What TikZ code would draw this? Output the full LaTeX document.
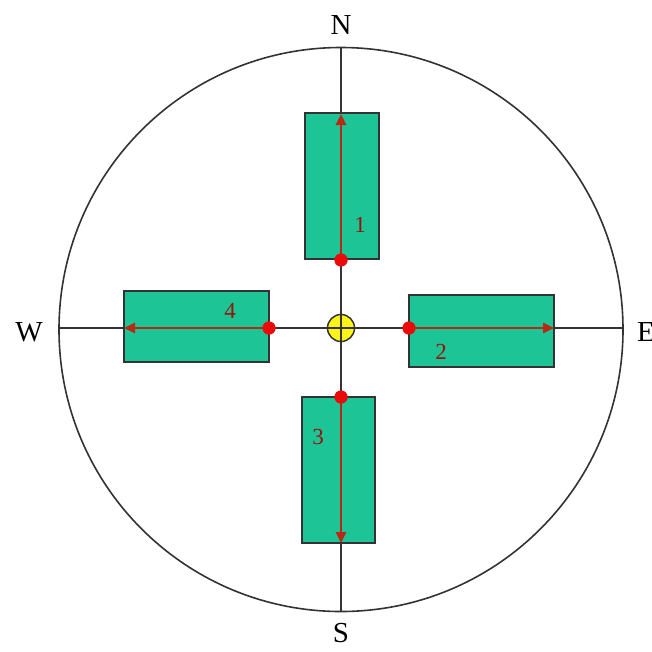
\documentclass[tikz,border=0pt]{standalone}
\usepackage{fontspec}
\setmainfont{Liberation Serif}
\usetikzlibrary{arrows.meta}
\definecolor{boxgreen}{RGB}{28,196,150}
\definecolor{arrred}{RGB}{185,40,20}
\definecolor{dotred}{RGB}{235,10,10}
\definecolor{labred}{RGB}{150,20,10}
\tikzset{
  panel/.style={draw=black!80, line width=1.6pt, fill=boxgreen, inner sep=0pt},
  axis/.style={draw=black!80, line width=1.6pt},
  vec/.style={draw=arrred, line width=2.6pt, -{Triangle[length=11pt,width=10pt]}},
  rdot/.style={circle, fill=dotred, inner sep=0pt, minimum size=13pt},
  dir/.style={font=\fontsize{29}{29}\selectfont, inner sep=1pt},
  num/.style={font=\fontsize{23}{23}\selectfont, text=labred}
}
\begin{document}
\begin{tikzpicture}[x=1pt,y=-1pt]
\useasboundingbox (0,0) rectangle (652,651);
\fill[white] (0,0) rectangle (652,651);
% outer circle
\node[draw=black!80, line width=1.6pt, circle, minimum size=564pt, inner sep=0pt] (ring) at (341,329.5) {};
% axes
\coordinate (top) at (341,47.5);
\coordinate (bot) at (341,611.5);
\coordinate (lft) at (59,328);
\coordinate (rgt) at (623,328);
\draw[axis] (top) -- (bot);
\draw[axis] (lft) -- (rgt);
% panels
\node[panel, minimum width=74pt, minimum height=146pt] (p1) at (342,186) {};
\node[panel, minimum width=145pt, minimum height=72pt] (p2) at (481.5,331) {};
\node[panel, minimum width=73pt, minimum height=146pt] (p3) at (338.5,470) {};
\node[panel, minimum width=145pt, minimum height=71pt] (p4) at (196.5,326.5) {};
% red dots
\node[rdot] (d1) at (341,260) {};
\node[rdot] (d2) at (409,328) {};
\node[rdot] (d3) at (341,397) {};
\node[rdot] (d4) at (269,328) {};
% arrow ends
\coordinate (e1) at (341,114);
\coordinate (e2) at (554,328);
\coordinate (e3) at (341,543);
\coordinate (e4) at (124,328);
\draw[vec] (d1.center) -- (e1);
\draw[vec] (d2.center) -- (e2);
\draw[vec] (d3.center) -- (e3);
\draw[vec] (d4.center) -- (e4);
\node[rdot] at (d1) {};
\node[rdot] at (d2) {};
\node[rdot] at (d3) {};
\node[rdot] at (d4) {};
% centre marker
\node[circle, draw=black!80, line width=1.5pt, fill=yellow!90!white, minimum size=27pt, inner sep=0pt] (c) at (341,328) {};
\draw[black!80, line width=1.4pt] (c.north) -- (c.south) (c.west) -- (c.east);
% numbers
\node[num] (n1) at (360,225) {1};
\node[num] (n2) at (441,352) {2};
\node[num] (n3) at (318,437) {3};
\node[num] (n4) at (230,311) {4};
% compass letters
\node[dir] (N) at (341,25) {N};
\node[dir] (S) at (341,633) {S};
\node[dir] (W) at (29,332) {W};
\node[dir, anchor=west] (E) at (636,332) {E};
\end{tikzpicture}
\end{document}
